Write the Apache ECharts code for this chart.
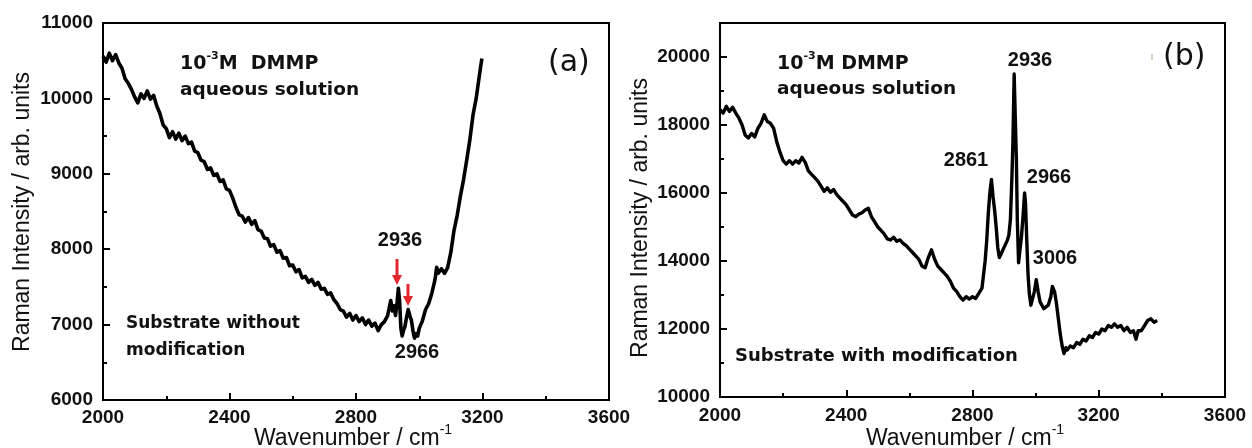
<!DOCTYPE html>
<html>
<head>
<meta charset="utf-8">
<script src="https://cdn.jsdelivr.net/npm/echarts@6/dist/echarts.min.js"></script>
<style>
html,body{margin:0;padding:0;background:#fff;}
#chart{width:1252px;height:448px;}
</style>
</head>
<body>
<div id="chart"></div>
<script>
// ---------- DATA ----------
// Panel (a): substrate without modification
const wnA = [2000,2010,2020,2030,2040,2050,2060,2070,2080,2090,
2100,2110,2120,2130,2140,2150,2160,2170,2180,2190,
2200,2210,2220,2230,2240,2250,2260,2270,2280,2290,
2300,2310,2320,2330,2340,2350,2360,2370,2380,2390,
2400,2410,2420,2430,2440,2450,2460,2470,2480,2490,
2500,2510,2520,2530,2540,2550,2560,2570,2580,2590,
2600,2610,2620,2630,2640,2650,2660,2670,2680,2690,
2700,2710,2720,2730,2740,2750,2760,2770,2780,2790,
2800,2810,2820,2830,2840,2850,2860,2870,2880,2890,
2900,2905,2910,2915,2920,2925,2930,2934,2938,2942,
2946,2950,2955,2960,2965,2970,2975,2980,2985,2990,
2995,3000,3010,3020,3030,3040,3050,3055,3060,3070,
3080,3090,3100,3110,3120,3130,3140,3150,3160,3170,
3180,3190,3198];
const intA = [10560,10480,10600,10500,10580,10470,10400,10260,10200,10120,
10020,9940,10060,10000,10100,9990,10040,9900,9800,9650,
9600,9480,9560,9460,9540,9440,9500,9400,9420,9300,
9280,9180,9160,9060,9080,8980,9000,8900,8920,8800,
8780,8680,8560,8460,8440,8360,8420,8330,8380,8260,
8240,8150,8140,8040,8060,7960,7980,7880,7890,7780,
7790,7700,7730,7620,7640,7560,7600,7520,7560,7470,
7480,7400,7420,7330,7280,7200,7180,7100,7150,7060,
7120,7040,7090,7000,7060,6980,7020,6920,7000,7040,
7120,7220,7320,7180,7250,7120,7300,7480,7300,6950,
6850,6920,6980,7100,7200,7120,7060,6920,6820,6880,
6850,6950,7050,7200,7280,7420,7600,7760,7680,7740,
7680,7760,7960,8250,8450,8700,8920,9180,9450,9780,
10000,10300,10530];

// Panel (b): substrate with modification
const wnB = [2000,2010,2020,2030,2040,2050,2060,2070,2080,2090,
2100,2110,2120,2130,2140,2150,2160,2170,2180,2190,
2200,2210,2220,2230,2240,2250,2260,2270,2280,2290,
2300,2310,2320,2330,2340,2350,2360,2370,2380,2390,
2400,2410,2420,2430,2440,2450,2460,2470,2480,2490,
2500,2510,2520,2530,2540,2550,2560,2570,2580,2590,
2600,2610,2620,2630,2640,2650,2660,2670,2680,2690,
2700,2710,2720,2730,2740,2750,2760,2770,2780,2790,
2800,2810,2820,2830,2840,2845,2850,2855,2860,2865,
2870,2875,2880,2885,2890,2900,2910,2915,2920,2925,
2928,2932,2936,2939,2942,2946,2950,2955,2960,2965,
2968,2972,2976,2980,2985,2990,2996,3002,3008,3014,
3020,3026,3032,3040,3048,3053,3060,3066,3072,3078,
3084,3090,3096,3100,3110,3120,3130,3140,3150,3160,
3170,3180,3190,3200,3210,3220,3230,3240,3250,3260,
3270,3280,3290,3300,3310,3318,3325,3335,3345,3355,
3365,3375,3385];
const intB = [18450,18350,18550,18400,18520,18350,18200,18000,17700,17620,
17750,17650,17900,18050,18300,18100,18050,17900,17500,17200,
16950,16850,16950,16850,16950,16880,17050,16900,16650,16550,
16450,16350,16200,16050,16150,16020,16100,15950,15850,15750,
15650,15500,15350,15300,15380,15420,15500,15550,15300,15150,
15000,14900,14800,14650,14620,14700,14580,14620,14520,14450,
14350,14250,14150,14050,13850,13800,14100,14330,14050,13850,
13750,13650,13550,13400,13200,13100,12950,12850,12950,12880,
12950,12900,13050,13200,14000,14600,15400,16000,16400,15900,
15500,15000,14400,14100,14200,14400,14600,14750,15200,16500,
17500,19500,19450,17000,15200,13950,14300,14700,15300,16000,
15700,14600,13600,13050,12700,12650,13100,13450,13100,12800,
12750,12600,12550,12700,12950,13250,13100,12750,12300,11850,
11500,11280,11450,11380,11500,11450,11600,11550,11700,11650,
11800,11750,11900,11850,12000,11950,12100,12050,12150,12050,
12100,11950,12050,11900,11950,11700,11950,11950,12100,12250,
12300,12200,12250];

const xTicks = {min: 2000, max: 3600, step: 400};
const yTicksA = {min: 6000, max: 11000, step: 1000};
const yTicksB = {min: 10000, max: 21000, step: 2000};

// ---------- CHART ----------
const FONT = "'Liberation Sans', Arial, sans-serif";
const FONT_W = "'DejaVu Sans', sans-serif";
const chart = echarts.init(document.getElementById('chart'), null, {renderer: 'canvas'});

const plain = function (v) { return String(v); };
const tickLabel = {color: '#111', fontWeight: 'bold', fontSize: 19, fontFamily: FONT, formatter: plain};
function xAxisCfg(gi, margin) {
  return {
    type: 'value', gridIndex: gi, min: xTicks.min, max: xTicks.max, interval: xTicks.step,
    axisLine: {show: true, lineStyle: {color: '#000', width: 2}},
    axisTick: {show: true, inside: true, length: 7, lineStyle: {color: '#000', width: 2}},
    minorTick: {show: true, splitNumber: 2, length: 4, lineStyle: {color: '#000', width: 2}},
    axisLabel: Object.assign({}, tickLabel, {margin: margin}),
    splitLine: {show: false}
  };
}

const option = {
  backgroundColor: '#fff',
  animation: false,
  grid: [
    {left: 103, top: 23, width: 506, height: 377, show: true, borderColor: '#000', borderWidth: 2, backgroundColor: 'transparent'},
    {left: 720, top: 23, width: 505, height: 374, show: true, borderColor: '#000', borderWidth: 2, backgroundColor: 'transparent'}
  ],
  xAxis: [xAxisCfg(0, 8), xAxisCfg(1, 9)],
  yAxis: [
    {
      type: 'value', gridIndex: 0, position: 'left',
      min: yTicksA.min, max: yTicksA.max, interval: yTicksA.step,
      axisLine: {show: true, lineStyle: {color: '#000', width: 2}},
      axisTick: {show: true, inside: true, length: 7, lineStyle: {color: '#000', width: 2}},
      minorTick: {show: true, splitNumber: 2, length: 4, lineStyle: {color: '#000', width: 2}},
      axisLabel: Object.assign({}, tickLabel, {margin: 10}),
      splitLine: {show: false}
    },
    {
      type: 'value', gridIndex: 1, position: 'left',
      min: yTicksB.min, max: yTicksB.max, interval: yTicksB.step / 2,
      axisLine: {show: true, lineStyle: {color: '#000', width: 2}},
      axisTick: {show: true, inside: true, length: 4, lineStyle: {color: '#000', width: 2}},
      axisLabel: Object.assign({}, tickLabel, {margin: 10, formatter: function (v) {
        return (v % yTicksB.step === 0 && v < yTicksB.max) ? String(v) : '';
      }}),
      splitLine: {show: false}
    },
    {
      type: 'value', gridIndex: 1, position: 'left',
      min: yTicksB.min, max: yTicksB.max, interval: yTicksB.step,
      axisLine: {show: false},
      axisTick: {show: true, inside: true, length: 7, lineStyle: {color: '#000', width: 2}},
      axisLabel: {show: false},
      splitLine: {show: false}
    }
  ],
  series: [
    {
      type: 'line', xAxisIndex: 0, yAxisIndex: 0, symbol: 'none',
      data: wnA.map((w, i) => [w, intA[i]]),
      lineStyle: {color: '#000', width: 3.6, join: 'round'}
    },
    {
      type: 'line', xAxisIndex: 1, yAxisIndex: 1, symbol: 'none',
      data: wnB.map((w, i) => [w, intB[i]]),
      lineStyle: {color: '#000', width: 3.4, join: 'round'}
    }
  ],
  graphic: []
};

function txt(x, y, text, font, align) {
  return {
    type: 'text', x: x, y: y, silent: true, z: 100,
    style: {text: text, font: font, fill: '#111', align: align || 'left', verticalAlign: 'middle'}
  };
}
function supText(x, y, parts, size, supSize, family) {
  return {
    type: 'text', x: x, y: y, silent: true, z: 100,
    style: {
      text: parts, fill: '#111', align: 'left', verticalAlign: 'middle',
      rich: {
        n: {fontSize: size, fontFamily: family, fontWeight: 'bold', fill: '#111', verticalAlign: 'bottom', lineHeight: size + 4},
        s: {fontSize: supSize, fontFamily: family, fontWeight: 'bold', fill: '#111', verticalAlign: 'top', lineHeight: size + 4},
        r: {fontSize: size, fontFamily: family, fontWeight: 'normal', fill: '#111', verticalAlign: 'bottom', lineHeight: size + 4},
        rs: {fontSize: supSize, fontFamily: family, fontWeight: 'normal', fill: '#111', verticalAlign: 'top', lineHeight: size + 4}
      }
    }
  };
}
function arrow(x, y1, y2) {
  return {
    type: 'group', silent: true,
    children: [
      {type: 'line', z: 100, shape: {x1: x, y1: y1, x2: x, y2: y2 - 8}, style: {stroke: '#e3262d', lineWidth: 3}},
      {type: 'polygon', z: 100, shape: {points: [[x - 5, y2 - 10], [x + 5, y2 - 10], [x, y2]]}, style: {fill: '#e3262d'}}
    ]
  };
}

const G = option.graphic;
// Panel (a) annotations
G.push(supText(180, 62, '{n|10}{s|-3}{n|M  DMMP}', 19, 11, FONT_W));
G.push(txt(180, 90, 'aqueous solution', "bold 18.5px " + FONT_W));
G.push(txt(548, 63, '(a)', "30px " + FONT_W));
G.push(txt(400, 240, '2936', "bold 20px " + FONT, 'center'));
G.push(txt(417, 352, '2966', "bold 20px " + FONT, 'center'));
G.push(arrow(397, 259, 285));
G.push(arrow(408, 284, 306));
G.push(txt(126, 324, 'Substrate without', "bold 17px " + FONT_W));
G.push(txt(126, 351, 'modification', "bold 17px " + FONT_W));

// Panel (b) annotations
G.push(supText(777, 62, '{n|10}{s|-3}{n|M DMMP}', 19, 11, FONT_W));
G.push(txt(777, 89, 'aqueous solution', "bold 18.5px " + FONT_W));
G.push(txt(1163, 57, '(b)', "30px " + FONT_W));
G.push({type: 'line', silent: true, shape: {x1: 1152, y1: 54, x2: 1152, y2: 60}, style: {stroke: '#cfc6a8', lineWidth: 1.5}});
[['2936', 1030, 60], ['2861', 966, 160], ['2966', 1049, 177], ['3006', 1055, 258]].forEach(function (p) {
  G.push(txt(p[1], p[2], p[0], "bold 20px " + FONT, 'center'));
});
G.push(txt(735, 356, 'Substrate with modification', "bold 18px " + FONT_W));

// Axis titles
[[353, 437], [965, 437]].forEach(function (p) {
  const el = supText(p[0], p[1], '{r|Wavenumber / cm}{rs|-1}', 23, 14, FONT);
  el.style.align = 'center';
  G.push(el);
});
[[23, 212], [641, 218]].forEach(function (p) {
  G.push({type: 'text', x: p[0], y: p[1], rotation: Math.PI / 2, silent: true,
    style: {text: 'Raman Intensity / arb. units', font: "23px " + FONT, fill: '#111', align: 'center', verticalAlign: 'middle'}});
});

chart.setOption(option);
</script>
</body>
</html>
